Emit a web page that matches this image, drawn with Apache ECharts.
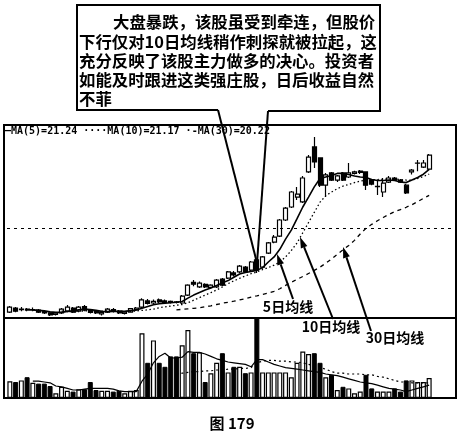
<!DOCTYPE html>
<html><head><meta charset="utf-8">
<script src="https://cdn.jsdelivr.net/npm/echarts@6/dist/echarts.min.js"></script>
<style>html,body{margin:0;padding:0;background:#fff}#c{width:462px;height:433px}</style>
</head><body><div id="c"></div>
<script>
// [open, close, low, high]
const candles = [
 [15.63,15.83,15.60,15.87],[15.79,15.67,15.63,15.83],[15.73,15.75,15.67,15.83],[15.75,15.71,15.67,15.79],
 [15.71,15.73,15.67,15.81],[15.71,15.63,15.60,15.75],[15.65,15.60,15.56,15.67],[15.60,15.52,15.48,15.63],
 [15.54,15.60,15.50,15.63],[15.60,15.75,15.56,15.79],[15.67,15.83,15.63,15.91],[15.79,15.63,15.60,15.83],
 [15.67,15.83,15.63,15.87],[15.85,15.71,15.67,15.91],[15.71,15.62,15.58,15.75],[15.66,15.60,15.56,15.71],
 [15.56,15.62,15.50,15.67],[15.63,15.75,15.60,15.79],[15.73,15.67,15.62,15.79],[15.67,15.60,15.56,15.71],
 [15.58,15.64,15.54,15.67],[15.63,15.77,15.62,15.79],[15.73,15.79,15.69,15.83],[15.83,16.11,15.79,16.18],
 [16.07,15.97,15.93,16.15],[15.99,16.05,15.95,16.13],[16.11,16.03,15.99,16.17],[16.07,16.01,15.97,16.13],
 [16.05,16.01,15.97,16.09],[16.03,16.01,15.97,16.07],[15.99,16.26,15.95,16.30],[16.30,16.69,16.26,16.73],
 [16.80,16.73,16.65,16.89],[16.62,16.77,16.58,16.83],[16.72,16.62,16.58,16.77],[16.60,16.69,16.56,16.73],
 [16.62,16.89,16.58,16.93],[16.93,16.69,16.66,16.97],[16.97,17.21,16.93,17.25],[17.17,17.09,17.03,17.25],
 [17.21,17.44,17.17,17.48],[17.40,17.21,17.17,17.44],[17.28,17.60,17.25,17.64],[17.68,17.28,17.17,17.72],
 [17.40,17.80,17.33,17.84],[17.95,18.35,17.91,18.39],[18.38,18.58,18.34,18.66],[18.62,19.25,18.58,19.29],
 [19.25,19.72,19.21,19.76],[19.76,20.35,19.72,20.39],[20.15,20.27,20.04,20.55],[19.96,20.90,19.92,20.98],
 [21.14,21.72,21.10,21.80],[22.12,21.53,21.29,22.51],[21.69,20.62,20.55,21.72],[20.62,21.02,20.15,21.10],
 [21.10,20.82,20.78,21.14],[20.82,20.98,20.74,21.02],[21.10,20.82,20.78,21.14],[20.94,21.10,20.90,21.49],
 [21.08,21.14,21.04,21.18],[21.12,21.17,21.06,21.21],[21.14,20.62,20.43,21.17],[20.82,20.66,20.62,20.86],
 [20.56,20.57,20.23,20.82],[20.35,20.70,20.15,20.90],[20.74,20.90,20.70,20.98],[20.90,20.82,20.78,20.94],
 [20.82,20.74,20.70,20.86],[20.62,20.31,20.27,20.66],[21.14,21.21,21.04,21.25],[21.48,21.49,21.17,21.61],
 [21.33,21.49,21.29,21.61],[21.25,21.80,21.21,21.84]
];
const volumes = [21,20,22,26,19,18,18,15,6,14,9,8,11,11,20,10,9,9,8,9,6,9,10,
 81,44,72,44,39,52,52,66,85,56,57,20,31,44,56,32,39,39,31,32,100,32,32,32,32,32,26,
 44,58,55,56,44,26,29,10,14,12,6,8,29,12,8,8,8,12,8,22,22,20,20,25];
const ma5 = ['-','-','-','-',15.72,15.70,15.68,15.64,15.62,15.62,15.66,15.68,15.72,15.75,15.73,15.70,
 15.66,15.65,15.66,15.66,15.66,15.69,15.71,15.78,15.85,15.92,15.96,15.98,16.00,16.02,16.05,16.18,16.30,
 16.40,16.50,16.58,16.68,16.78,16.87,17.00,17.13,17.19,17.23,17.27,17.38,17.60,17.80,18.10,18.50,18.85,
 19.30,19.76,20.15,20.55,20.88,20.94,21.00,21.08,21.08,21.04,20.98,20.94,20.92,20.84,20.80,20.80,20.82,
 20.80,20.74,20.72,20.82,20.92,21.05,21.24];
const ma10 = ['-','-','-','-','-','-','-','-','-',15.67,15.66,15.65,15.66,15.68,15.69,15.68,15.67,15.68,
 15.68,15.67,15.66,15.66,15.68,15.70,15.72,15.75,15.80,15.84,15.87,15.90,15.93,16.00,16.10,16.20,16.30,
 16.40,16.50,16.62,16.75,16.86,16.96,17.05,17.14,17.21,17.30,17.38,17.48,17.60,17.80,18.05,18.35,18.75,
 19.15,19.55,19.95,20.20,20.35,20.48,20.58,20.65,20.72,20.78,20.82,20.84,20.84,20.85,20.86,20.86,20.84,
 20.82,20.82,20.88,20.96,21.05];
const ma30 = ['-','-','-','-','-','-','-','-','-','-','-','-','-','-','-','-','-','-','-','-','-','-','-',
 '-','-','-','-','-','-',15.72,15.74,15.76,15.78,15.80,15.84,15.88,15.93,15.98,16.02,16.06,16.11,16.16,
 16.22,16.27,16.33,16.38,16.45,16.55,16.68,16.80,16.92,17.03,17.15,17.27,17.40,17.55,17.72,17.90,18.08,
 18.25,18.45,18.70,18.92,19.08,19.22,19.35,19.47,19.58,19.66,19.75,19.85,19.97,20.10,20.22];
const volMaSolid = ['-','-','-','-',21,21,20,19,15,14,12,10,10,11,12,12,12,12,11,9,8,8,8,21,30,44,52,56,
 50,50,51,58,57,57,55,52,49,47,45,44,43,42,39,48,48,45,42,40,38,37,36,35,34,33,32,30,29,28,26,24,22,20,
 19,18,16,14,12,11,10,8,10,12,14,16];
const volMaDotted = ['-','-','-','-','-','-','-','-','-','-','-','-','-','-','-','-','-','-','-','-','-',
 '-','-','-','-','-','-','-','-',30,31,32,33,33,34,34,35,35,36,36,37,37,38,44,46,47,47,46,46,45,45,44,42,
 40,38,36,33,31,31,30,30,30,29,29,27,26,24,22,20,20,19,19,19,19];
const emptyDays = 4;
const maLegend = '—MA(5)=21.24 ····MA(10)=21.17 ·-MA(30)=20.22';
const midLineValue = 18.94;
const noteLines = ['大盘暴跌，该股虽受到牵连，但股价','下行仅对10日均线稍作刺探就被拉起，这',
 '充分反映了该股主力做多的决心。投资者','如能及时跟进这类强庄股，日后收益自然','不菲'];
const maLabels = ['5日均线','10日均线','30日均线'];
const caption = '图 179';

const days = candles.map((_, i) => String(i + 1));
for (let k = 0; k < emptyDays; k++) days.push('');

const volData = volumes.map((v, i) => {
  const up = candles[i][1] >= candles[i][0];
  return { value: v, itemStyle: up ? { color: '#fff', borderColor: '#000', borderWidth: 1.2 } : { color: '#000', borderColor: '#000', borderWidth: 1 } };
});

function arrow(x1, y1, x2, y2) {
  const dx = x2 - x1, dy = y2 - y1, L = Math.hypot(dx, dy);
  const ux = dx / L, uy = dy / L, hl = 11, hw = 3.5;
  const bx = x2 - ux * hl, by = y2 - uy * hl;
  return [
    { type: 'line', z: 100, shape: { x1, y1, x2: bx, y2: by }, style: { stroke: '#000', lineWidth: 2 } },
    { type: 'polygon', z: 100, shape: { points: [[x2, y2], [bx - uy * hw, by + ux * hw], [bx + uy * hw, by - ux * hw]] }, style: { fill: '#000' } }
  ];
}
const cjk = '"Noto Sans CJK SC", sans-serif';
const graphics = [
  { type: 'rect', z: 100, shape: { x: 4, y: 125, width: 452, height: 273 }, style: { fill: 'none', stroke: '#000', lineWidth: 2 } },
  { type: 'line', z: 100, shape: { x1: 4, y1: 318, x2: 456, y2: 318 }, style: { stroke: '#000', lineWidth: 2 } },
  { type: 'polyline', z: 100, shape: { points: [[218, 110], [77, 110], [77, 5], [380, 5], [380, 111], [268, 111]] }, style: { fill: 'none', stroke: '#000', lineWidth: 2 } },
  { type: 'line', z: 100, shape: { x1: 218, y1: 110, x2: 257, y2: 263 }, style: { stroke: '#000', lineWidth: 2 } },
  { type: 'line', z: 100, shape: { x1: 268, y1: 111, x2: 257, y2: 263 }, style: { stroke: '#000', lineWidth: 2 } },
  { type: 'text', z: 100, style: { text: maLegend, x: 5, y: 131, verticalAlign: 'middle', font: 'bold 10px "DejaVu Sans Mono", monospace', fill: '#000' } },
  { type: 'text', z: 100, style: { text: caption, x: 232, y: 423, align: 'center', verticalAlign: 'middle', font: 'bold 15px ' + cjk, fill: '#000' } },
  { type: 'text', z: 101, style: { text: maLabels[0], x: 288, y: 307, align: 'center', verticalAlign: 'middle', font: 'bold 14px ' + cjk, fill: '#000', backgroundColor: '#fff' } },
  { type: 'text', z: 101, style: { text: maLabels[1], x: 331, y: 327, align: 'center', verticalAlign: 'middle', font: 'bold 14px ' + cjk, fill: '#000', backgroundColor: '#fff' } },
  { type: 'text', z: 101, style: { text: maLabels[2], x: 395, y: 338, align: 'center', verticalAlign: 'middle', font: 'bold 14px ' + cjk, fill: '#000', backgroundColor: '#fff' } }
].concat(arrow(293, 299, 277, 254), arrow(333, 319, 300, 237), arrow(371, 331, 343, 247));
const lineY = [22, 42, 61, 80, 99];
noteLines.forEach((t, i) => graphics.push({ type: 'text', z: 100, style: { text: t, x: i === 0 ? 113 : 79, y: lineY[i], verticalAlign: 'middle', font: 'bold 16.4px ' + cjk, fill: '#000' } }));

const chart = echarts.init(document.getElementById('c'));
chart.setOption({
  animation: false,
  backgroundColor: '#fff',
  grid: [
    { left: 7, right: 7, top: 136, height: 182 },
    { left: 7, right: 7, top: 318, height: 80 }
  ],
  xAxis: [
    { type: 'category', gridIndex: 0, data: days, show: false, boundaryGap: true },
    { type: 'category', gridIndex: 1, data: days, show: false, boundaryGap: true }
  ],
  yAxis: [
    { type: 'value', gridIndex: 0, min: 15.4, max: 22.55, show: false, splitLine: { show: false } },
    { type: 'value', gridIndex: 1, min: 0, max: 100, show: false, splitLine: { show: false } }
  ],
  series: [
    { type: 'line', name: 'MA30', data: ma30, showSymbol: false, lineStyle: { color: '#000', width: 1.3, type: [4, 4] } },
    { type: 'line', name: 'MA10', data: ma10, showSymbol: false, lineStyle: { color: '#000', width: 1.3, type: [1.5, 2.5] } },
    { type: 'line', name: 'MA5', data: ma5, showSymbol: false, lineStyle: { color: '#000', width: 1.6 } },
    { type: 'candlestick', data: candles, barWidth: 4.5,
      itemStyle: { color: '#fff', color0: '#000', borderColor: '#000', borderColor0: '#000', borderWidth: 1.2 },
      markLine: { silent: true, symbol: 'none', label: { show: false }, lineStyle: { color: '#000', width: 1, type: [3, 4] }, data: [{ yAxis: midLineValue }] } },
    { type: 'bar', xAxisIndex: 1, yAxisIndex: 1, data: volData, barWidth: 5 },
    { type: 'line', xAxisIndex: 1, yAxisIndex: 1, data: volMaSolid, showSymbol: false, z: 5, lineStyle: { color: '#000', width: 1.2 } },
    { type: 'line', xAxisIndex: 1, yAxisIndex: 1, data: volMaDotted, showSymbol: false, z: 5, lineStyle: { color: '#000', width: 1.2, type: [2, 3] } }
  ],
  graphic: graphics
});
</script></body></html>
